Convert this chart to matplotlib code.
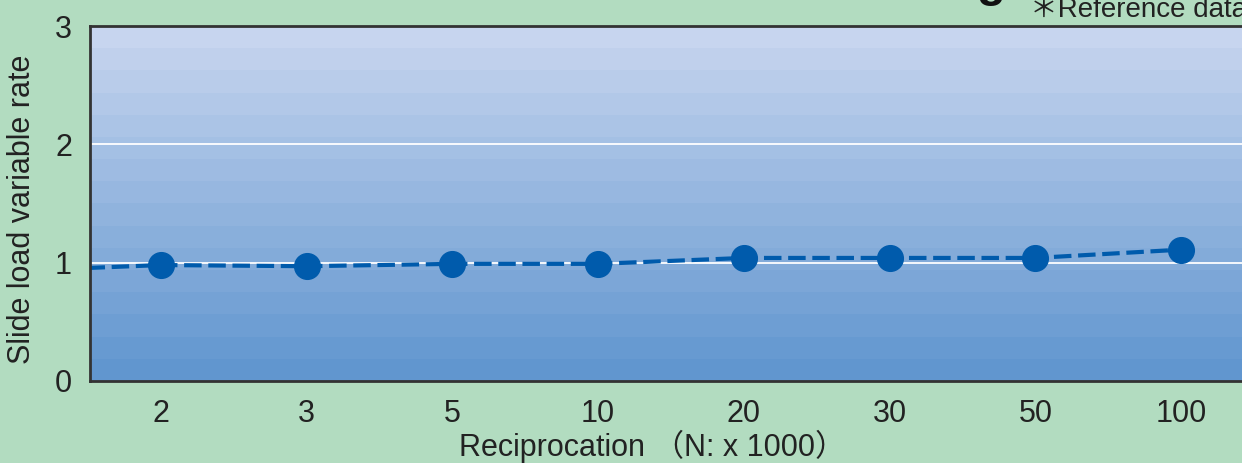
import numpy as np
import matplotlib
matplotlib.use("Agg")
import matplotlib.pyplot as plt
from matplotlib.colors import LinearSegmentedColormap

plt.rcParams['font.family'] = ['Liberation Sans', 'DejaVu Sans']

categories = ["2", "3", "5", "10", "20", "30", "50", "100"]
values = [0.98, 0.97, 0.99, 0.99, 1.04, 1.04, 1.04, 1.11]
lead_value = 0.93  # line enters from the left (previous point off-axis)
y_ticks = [0, 1, 2, 3]

W, H = 1242, 463
fig = plt.figure(figsize=(W / 100, H / 100), dpi=100)
fig.patch.set_facecolor('#b2dcc0')

left, right, top, bottom = 90, 1254, 26, 381
ax = fig.add_axes([left / W, 1 - bottom / H, (right - left) / W, (bottom - top) / H])

x = np.arange(len(categories))
xmin, xmax = -0.486, 7.5
ax.set_xlim(xmin, xmax)
ax.set_ylim(0, 3)

# banded gradient background
nb = 16
grad = np.linspace(1, 0, nb).reshape(-1, 1)
cmap = LinearSegmentedColormap.from_list('bg', ['#6196cf', '#c7d5ef'])
ax.imshow(grad, aspect='auto', cmap=cmap, extent=(xmin, xmax, 0, 3),
          origin='upper', interpolation='nearest', zorder=0)

for yv in [1, 2]:
    ax.axhline(yv, color='white', lw=1.3, zorder=1)

xs = np.concatenate([[-1], x])
ys = [lead_value] + values
ax.plot(xs, ys, color='#005bac', lw=3.0, ls=(0, (4.2, 1.6)), zorder=2,
        solid_capstyle='butt', dash_capstyle='butt')
ax.plot(x, values, 'o', color='#005bac', ms=18.5, zorder=3)

ax.set_xticks(x)
ax.set_xticklabels(categories)
ax.set_yticks(y_ticks)
ax.tick_params(axis='both', length=0, labelsize=22, colors='#222222')
ax.tick_params(axis='x', pad=13)
ax.tick_params(axis='y', pad=13)

for s in ['left', 'top', 'bottom']:
    ax.spines[s].set_color('#333333')
    ax.spines[s].set_linewidth(2)
ax.spines['right'].set_visible(False)

cjk = ['Liberation Sans', 'Noto Sans CJK JP', 'DejaVu Sans']
fig.text(22 / W, 1 - 209 / H, 'Slide load variable rate', rotation=90,
         ha='center', va='center', fontsize=22, color='#222222')
fig.text(652 / W, 1 - 456 / H, 'Reciprocation \uff08N: x 1000\uff09', ha='center',
         va='baseline', fontsize=22, color='#222222', family=cjk)
fig.text(1030 / W, 1 - 17 / H, '\uff0aReference data', ha='left', va='baseline',
         fontsize=20, color='#222222', family=cjk)
fig.text(976 / W, 1 + 4 / H, 'g', ha='left', va='baseline', fontsize=34,
         fontweight='bold', color='#111111')

fig.savefig('out.png', dpi=100, facecolor=fig.get_facecolor())
